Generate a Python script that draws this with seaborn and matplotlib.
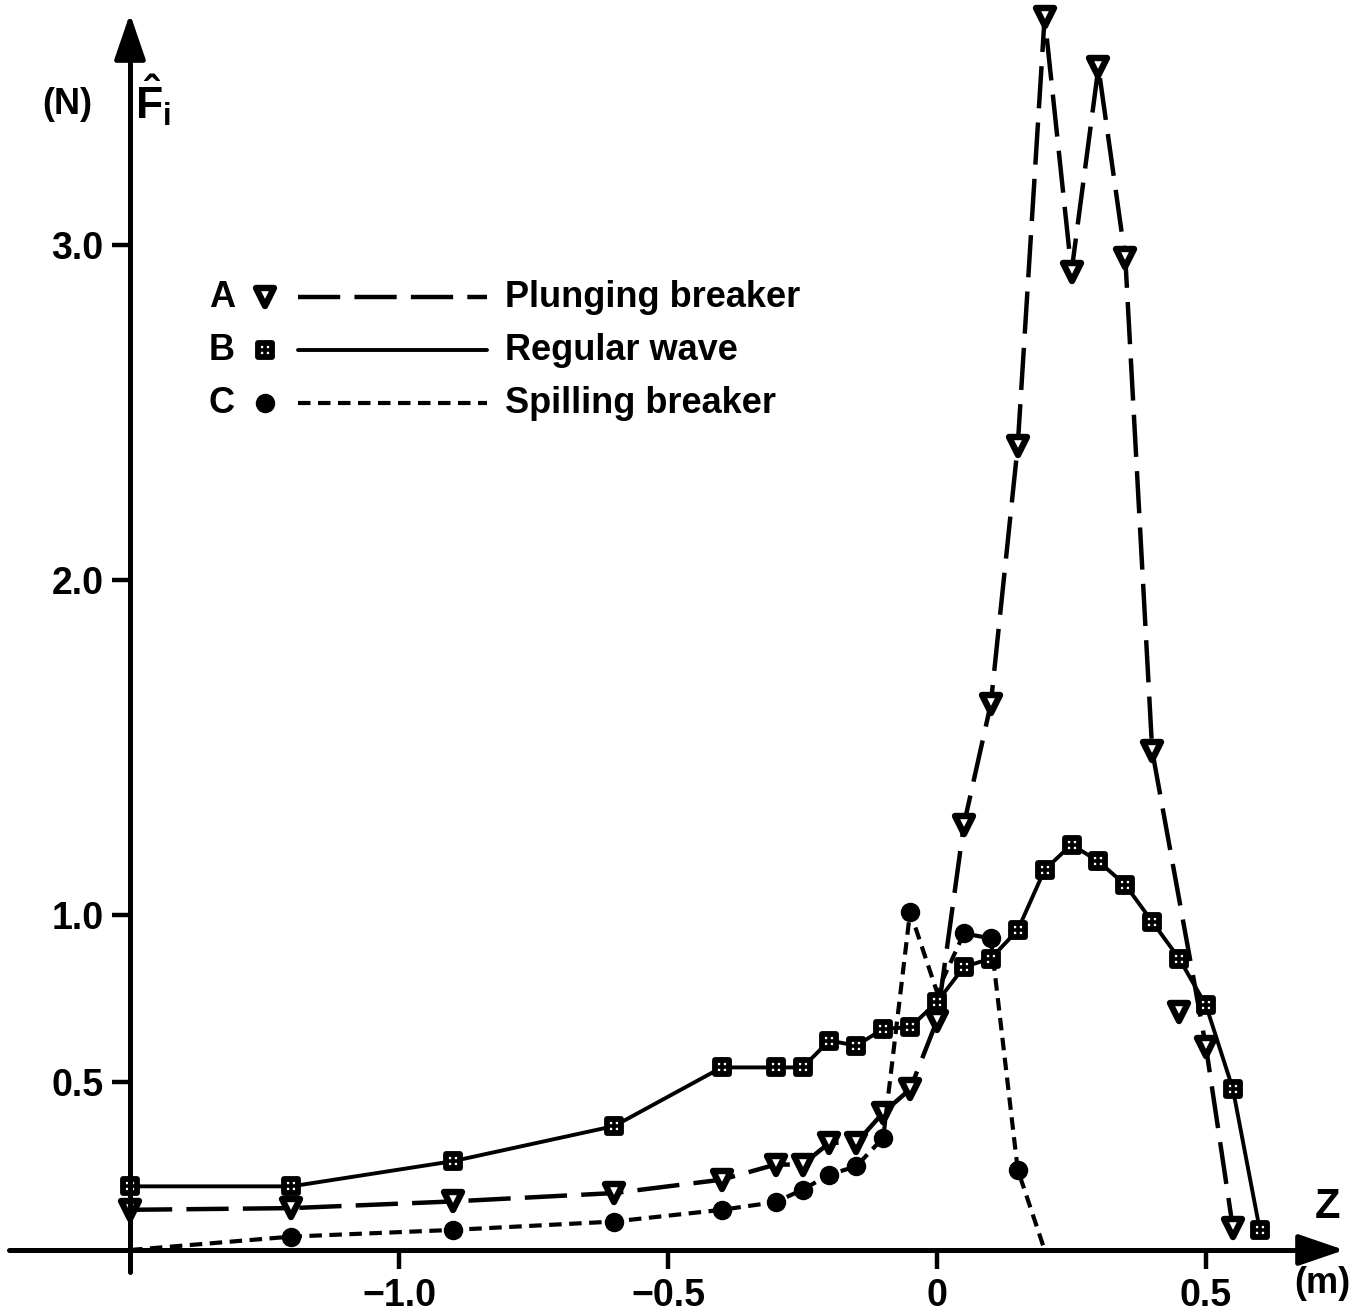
import matplotlib
matplotlib.use("Agg")
import matplotlib.pyplot as plt
import seaborn as sns
from matplotlib.lines import Line2D
from matplotlib.markers import MarkerStyle

# Wave force amplitude F_i (N) against elevation z (m)
z_plunging = [-1.5, -1.2, -0.9, -0.6, -0.4, -0.3, -0.25, -0.2, -0.15, -0.1, -0.05,
              0.0, 0.05, 0.1, 0.15, 0.2, 0.25, 0.3, 0.35, 0.4, 0.5, 0.55]
f_plunging = [0.12, 0.125, 0.145, 0.17, 0.21, 0.255, 0.255, 0.32, 0.32, 0.41, 0.48,
              0.685, 1.27, 1.63, 2.40, 3.68, 2.92, 3.53, 2.96, 1.49, 0.605, 0.065]
# measured point lying off the dashed curve
z_plunging_extra = [0.45]
f_plunging_extra = [0.71]

z_regular = [-1.5, -1.2, -0.9, -0.6, -0.4, -0.3, -0.25, -0.2, -0.15, -0.1, -0.05,
             0.0, 0.05, 0.1, 0.15, 0.2, 0.25, 0.3, 0.35, 0.4, 0.45, 0.5, 0.55, 0.6]
f_regular = [0.19, 0.19, 0.265, 0.37, 0.545, 0.545, 0.545, 0.625, 0.61, 0.66, 0.665,
             0.74, 0.845, 0.87, 0.955, 1.135, 1.21, 1.16, 1.09, 0.98, 0.87, 0.73, 0.48, 0.06]

z_spilling = [-1.5, -1.2, -0.9, -0.6, -0.4, -0.3, -0.25, -0.2, -0.15, -0.1, -0.05,
              0.0, 0.05, 0.1, 0.15, 0.2]
f_spilling = [0.0, 0.04, 0.06, 0.085, 0.12, 0.143, 0.18, 0.225, 0.25, 0.335, 1.01,
              0.77, 0.945, 0.93, 0.24, 0.0]
spilling_marked = [1, 2, 3, 4, 5, 6, 7, 8, 9, 10, 12, 13, 14]

x_ticks = [-1.0, -0.5, 0.0, 0.5]
x_ticklabels = ["\u22121.0", "\u22120.5", "0", "0.5"]
y_ticks = [0.5, 1.0, 2.0, 3.0]
y_ticklabels = ["0.5", "1.0", "2.0", "3.0"]

series_letters = ["A", "B", "C"]
series_names = ["Plunging breaker", "Regular wave", "Spilling breaker"]

sns.set_style("white")
plt.rcParams["font.family"] = ["Liberation Sans", "DejaVu Sans"]
plt.rcParams["font.weight"] = "bold"
plt.rcParams["text.color"] = "black"
plt.rcParams["xtick.color"] = "black"
plt.rcParams["ytick.color"] = "black"
plt.rcParams["axes.edgecolor"] = "black"
plt.rcParams["mathtext.fontset"] = "custom"
plt.rcParams["mathtext.rm"] = "Liberation Sans"
plt.rcParams["mathtext.bf"] = "Liberation Sans:bold"
plt.rcParams["mathtext.it"] = "Liberation Sans:italic:bold"

tri = MarkerStyle("v", joinstyle="round")
sq = MarkerStyle("s", joinstyle="round")

fig = plt.figure(figsize=(13.6, 13.15), dpi=100)
ax = fig.add_axes([0, 0, 1, 1])
ax.set_xlim(-1.7416, 0.7862)
ax.set_ylim(-0.194, 3.731)

ls_long = (0, (9.5, 3.2))
ls_short = (0, (3.0, 1.8))

tri_kw = dict(marker=tri, markersize=13, markerfacecolor="white",
              markeredgecolor="black", markeredgewidth=4.6)
sq_kw = dict(marker=sq, markersize=10, markerfacecolor="white",
             markeredgecolor="black", markeredgewidth=4.2)
plus_kw = dict(marker="+", markersize=9, markeredgecolor="black", markeredgewidth=2.6)

# A: plunging breaker
sns.lineplot(x=z_plunging, y=f_plunging, ax=ax, color="black", lw=3.2,
             linestyle=ls_long, sort=False, estimator=None, **tri_kw)
sns.lineplot(x=z_plunging_extra, y=f_plunging_extra, ax=ax, color="black",
             linestyle="none", estimator=None, **tri_kw)

# B: regular wave
sns.lineplot(x=z_regular, y=f_regular, ax=ax, color="black", lw=2.8,
             linestyle="-", sort=False, estimator=None, **sq_kw)
sns.lineplot(x=z_regular, y=f_regular, ax=ax, color="black", linestyle="none",
             sort=False, estimator=None, **plus_kw)

# C: spilling breaker
sns.lineplot(x=z_spilling, y=f_spilling, ax=ax, color="black", lw=3.0,
             linestyle=ls_short, marker="o", markersize=13, markerfacecolor="black",
             markeredgecolor="black", markeredgewidth=1, markevery=spilling_marked,
             sort=False, estimator=None)

# axes drawn through the origin of the z-scale and at z = -1.5
for side in ["top", "right"]:
    ax.spines[side].set_visible(False)
ax.spines["left"].set_position(("data", -1.5))
ax.spines["bottom"].set_position(("data", 0.0))
ax.spines["left"].set_bounds(-0.065, 3.6)
ax.spines["bottom"].set_bounds(-1.725, 0.70)
for side in ["left", "bottom"]:
    ax.spines[side].set_linewidth(3.6)
    ax.spines[side].set_capstyle("round")
    ax.spines[side].set_color("black")

arrow_kw = dict(arrowstyle="-|>,head_length=0.7,head_width=0.24", color="black",
                lw=3.6, mutation_scale=40, shrinkA=0, shrinkB=0)
ax.annotate("", xy=(-1.5, 3.69), xytext=(-1.5, 3.55), arrowprops=arrow_kw)
ax.annotate("", xy=(0.757, 0.0), xytext=(0.68, 0.0), arrowprops=arrow_kw)

ax.set_xticks(x_ticks)
ax.set_xticklabels(x_ticklabels)
ax.set_yticks(y_ticks)
ax.set_yticklabels(y_ticklabels)
ax.tick_params(axis="x", direction="out", length=14, width=3.2, pad=6,
               labelsize=27, bottom=True, colors="black")
ax.tick_params(axis="y", direction="out", length=13, width=3.2, pad=6,
               labelsize=27, left=True, colors="black")
ax.grid(False)
ax.set_xlabel("")
ax.set_ylabel("")

# axis captions
ax.text(-1.617, 3.418, "(N)", fontsize=26, fontweight="bold", ha="center", va="center")
ax.text(-1.49, 3.43, r"$\mathbf{\hat{F}}_\mathbf{i}$", fontsize=32, ha="left", va="center")
ax.text(0.725, 0.128, "Z", fontsize=30, fontweight="bold", ha="center", va="center")
ax.text(0.716, -0.099, "(m)", fontsize=26, fontweight="bold", ha="center", va="center")

# legend key: letter, marker, line sample, description
tr = ax.transAxes
rows_y = [0.7741, 0.7338, 0.6935]
keys = [
    (ls_long, 3.2, tri_kw),
    ("-", 2.8, sq_kw),
    (ls_short, 3.0, dict(marker="o", markersize=13, markerfacecolor="black",
                         markeredgecolor="black", markeredgewidth=1)),
]
for y, letter, name, (lstyle, lw, mkw) in zip(rows_y, series_letters, series_names, keys):
    ax.text(0.1632, y, letter, transform=tr, fontsize=26, fontweight="bold",
            ha="center", va="center")
    ax.add_line(Line2D([0.1949], [y], transform=tr, linestyle="none", **mkw))
    if mkw is sq_kw:
        ax.add_line(Line2D([0.1949], [y], transform=tr, linestyle="none", **plus_kw))
    ax.add_line(Line2D([0.2191, 0.3581], [y, y], transform=tr, color="black",
                       linestyle=lstyle, lw=lw))
    ax.text(0.3713, y, name, transform=tr, fontsize=26, fontweight="bold",
            ha="left", va="center")

fig.savefig("out.png", dpi=100, facecolor="white")
